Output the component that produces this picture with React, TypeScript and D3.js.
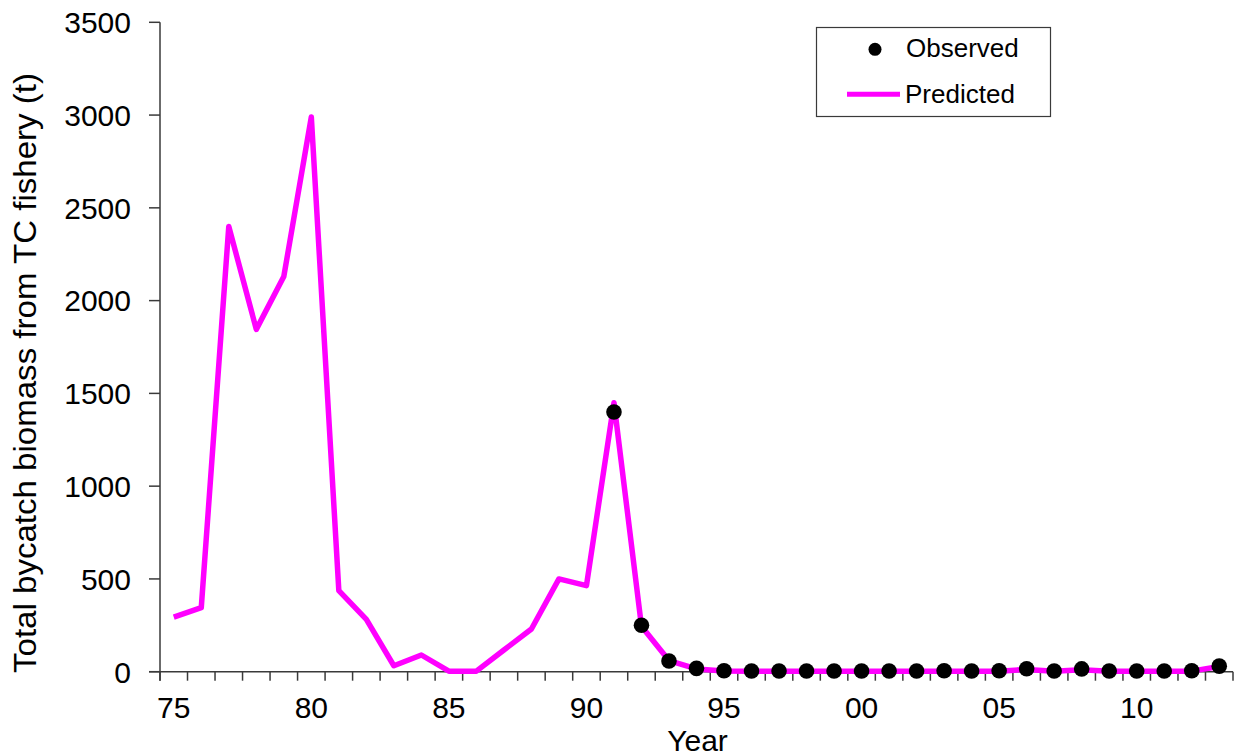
import React from "react";
import * as d3 from "d3";

const years: number[] = d3.range(1975, 2014);
const tickLabelYears: number[] = [1975, 1980, 1985, 1990, 1995, 2000, 2005, 2010];
const yTicks: number[] = [0, 500, 1000, 1500, 2000, 2500, 3000, 3500];

const predicted: number[] = [
  294, 345, 2400, 1845, 2130, 2990, 437, 282, 32, 90,
  3, 3, 117, 230, 500, 464, 1450, 245, 60, 15,
  4, 3, 3, 3, 3, 3, 3, 3, 3, 3,
  3, 12, 3, 10, 3, 3, 3, 3, 28,
];

const observedYears: number[] = d3.range(1991, 2014);
const observed: number[] = [
  1400, 250, 58, 18, 5, 4, 4, 4, 4, 4,
  4, 4, 5, 4, 5, 16, 4, 15, 4, 4,
  4, 5, 30,
];

const W = 1241;
const H = 754;
const FONT = "'Liberation Sans', Arial, Helvetica, sans-serif";
const AXIS = "#3a3a3a";
const MAGENTA = "#ff00ff";

export default function App() {
  const x = d3.scaleBand<number>().domain(years).range([160, 1233]).paddingInner(0).paddingOuter(0);
  const bw = x.bandwidth();
  const cx = (yr: number) => (x(yr) as number) + bw / 2;
  const y = d3.scaleLinear().domain([0, 3500]).range([671.7, 22.3]);

  const line = d3
    .line<number>()
    .x((_, i) => cx(years[i]))
    .y((d) => y(d));

  const boundaries = years.map((yr) => x(yr) as number).concat([x.range()[1]]);

  return (
    <svg
      width={W}
      height={H}
      style={{ position: "absolute", left: 0, top: 0, background: "#fff" }}
      fontFamily={FONT}
    >
      <rect x={0} y={0} width={W} height={H} fill="#fff" />
      {/* Y axis */}
      <line x1={160} x2={160} y1={y(3500)} y2={680.7} stroke={AXIS} strokeWidth={1.5} />
      {yTicks.map((t) => (
        <g key={t}>
          <line x1={149} x2={160} y1={y(t)} y2={y(t)} stroke={AXIS} strokeWidth={1.5} />
          <text x={131} y={y(t)} dy="0.36em" textAnchor="end" fontSize={30} fill="#000">
            {t}
          </text>
        </g>
      ))}
      {/* X axis */}
      <line x1={149} x2={x.range()[1]} y1={y(0)} y2={y(0)} stroke={AXIS} strokeWidth={1.5} />
      {boundaries.map((b, i) => (
        <line key={i} x1={b} x2={b} y1={y(0)} y2={680.7} stroke={AXIS} strokeWidth={1.5} />
      ))}
      {tickLabelYears.map((yr) => (
        <text key={yr} x={cx(yr)} y={718} textAnchor="middle" fontSize={30} fill="#000">
          {String(yr % 100).padStart(2, "0")}
        </text>
      ))}
      <text x={697.5} y={751} textAnchor="middle" fontSize={30} fill="#000">
        Year
      </text>
      <text
        transform={`translate(36, 373) rotate(-90)`}
        textAnchor="middle"
        fontSize={32}
        textLength={600}
        lengthAdjust="spacingAndGlyphs"
        fill="#000"
      >
        Total bycatch biomass from TC fishery (t)
      </text>

      {/* Predicted line */}
      <path
        d={line(predicted) || ""}
        fill="none"
        stroke={MAGENTA}
        strokeWidth={5.5}
        strokeLinejoin="round"
      />
      {/* Observed points */}
      {observed.map((v, i) => (
        <circle key={i} cx={cx(observedYears[i])} cy={y(v)} r={7.8} fill="#000" />
      ))}

      {/* Legend */}
      <rect x={816.5} y={27.5} width={234} height={89} fill="#fff" stroke={AXIS} strokeWidth={1.2} />
      <circle cx={875} cy={49.3} r={6.5} fill="#000" />
      <text x={906} y={57} fontSize={26} fill="#000">
        Observed
      </text>
      <line x1={847} x2={900} y1={94.3} y2={94.3} stroke={MAGENTA} strokeWidth={5} />
      <text x={905} y={103.3} fontSize={26} fill="#000">
        Predicted
      </text>
    </svg>
  );
}
